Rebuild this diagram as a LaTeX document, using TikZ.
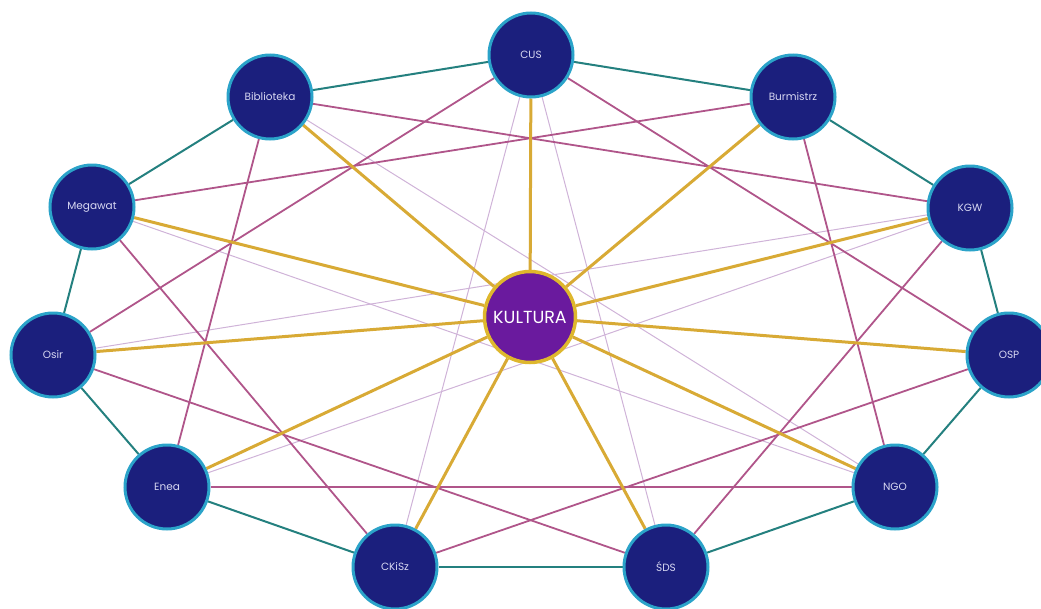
\documentclass[tikz,border=0pt]{standalone}
\usepackage{fontspec}
\setmainfont{Poppins}
\usetikzlibrary{backgrounds}

\definecolor{navy}{HTML}{1B1F7D}
\definecolor{rim}{HTML}{2BA3C9}
\definecolor{ringcol}{HTML}{24807F}
\definecolor{rose}{HTML}{B0558A}
\definecolor{lilac}{HTML}{CFB3D8}
\definecolor{gold}{HTML}{D8AA35}
\definecolor{plum}{HTML}{6A1A9E}
\definecolor{labeltxt}{HTML}{D8D8F2}

\tikzset{
    partner/.style={circle,fill=navy,draw=rim,line width=3pt,minimum size=84pt,
        inner sep=0pt,text=labeltxt,font=\fontsize{10.5}{12}\selectfont},
    hub/.style={circle,fill=plum,draw=gold!85!yellow,line width=3.5pt,minimum size=91pt,
        inner sep=0pt,text=white,font=\fontsize{17.5}{19}\selectfont},
    ringlink/.style={draw=ringcol,line width=2pt},
    crosslink/.style={draw=rose,line width=1.8pt},
    faintlink/.style={draw=lilac,line width=1pt},
    spoke/.style={draw=gold,line width=3pt}
}

\begin{document}
\begin{tikzpicture}[x=1pt,y=-1pt]
    \useasboundingbox (0,0) rectangle (1041,608);
    \clip (0,0) rectangle (1041,608);

    % partners round the hub
    \node [partner] (cus)  at (531,55)  {CUS};
    \node [partner] (burm) at (793,97)  {Burmistrz};
    \node [partner] (kgw)  at (970,208) {KGW};
    \node [partner] (osp)  at (1009,355) {OSP};
    \node [partner] (ngo)  at (895,487) {NGO};
    \node [partner] (sds)  at (666,567) {ŚDS};
    \node [partner] (ckisz) at (395,567) {CKiSz};
    \node [partner] (enea) at (167,487) {Enea};
    \node [partner] (osir) at (53,355)  {Osir};
    \node [partner] (mega) at (92,207)  {Megawat};
    \node [partner] (bib)  at (270,97)  {Biblioteka};

    \node [hub] (kultura) at (530,317) {KULTURA};

    \begin{scope}[on background layer]
        % outer ring
        \foreach \a/\b in {cus/burm,burm/kgw,kgw/osp,osp/ngo,ngo/sds,sds/ckisz,
                           ckisz/enea,enea/osir,osir/mega,mega/bib,bib/cus}{%
            \draw [ringlink] (\a) -- (\b);
        }

        % faint chords
        \foreach \a/\b in {cus/sds,cus/ckisz,kgw/enea,kgw/osir,ngo/mega,ngo/bib}{%
            \draw [faintlink] (\a) -- (\b);
        }

        % pink chords
        \foreach \a/\b in {cus/osp,burm/ngo,kgw/sds,osp/ckisz,ngo/enea,sds/osir,
                           ckisz/mega,enea/bib,osir/cus,mega/burm,bib/kgw}{%
            \draw [crosslink] (\a) -- (\b);
        }

        % spokes
        \foreach \n in {cus,burm,kgw,osp,ngo,sds,ckisz,enea,osir,mega,bib}{%
            \draw [spoke] (kultura) -- (\n);
        }
    \end{scope}

\end{tikzpicture}
\end{document}
